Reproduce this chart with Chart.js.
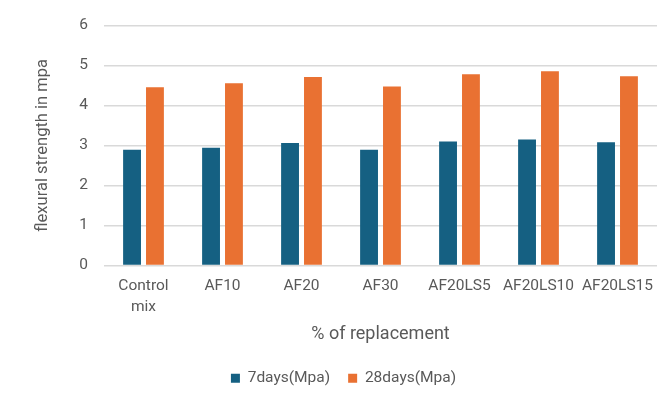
<!DOCTYPE html>
<html>
<head>
<meta charset="utf-8">
<script src="https://cdn.jsdelivr.net/npm/chart.js@4/dist/chart.umd.min.js"></script>
<style>
  html, body { margin: 0; padding: 0; background: #fff; }
  #wrap { width: 670px; height: 408px; }
</style>
</head>
<body>
<div id="wrap"><canvas id="chart" width="670" height="408"></canvas></div>
<script>
const categories = [["Control", "mix"], "AF10", "AF20", "AF30", "AF20LS5", "AF20LS10", "AF20LS15"];
const days7 = [2.89, 2.94, 3.06, 2.89, 3.10, 3.15, 3.08];
const days28 = [4.45, 4.55, 4.71, 4.47, 4.78, 4.85, 4.73];
const yTicks = [0, 1, 2, 3, 4, 5, 6];

const textColor = '#595959';
const font = {family: 'Roboto', size: 15.5};

new Chart(document.getElementById('chart'), {
    type: 'bar',
    data: {
        labels: categories,
        datasets: [{
            label: '7days(Mpa)',
            data: days7,
            backgroundColor: '#156082'
        }, {
            label: '28days(Mpa)',
            data: days28,
            backgroundColor: '#E97132'
        }]
    },
    options: {
        responsive: false,
        animation: false,
        datasets: {
            bar: {categoryPercentage: 0.58, barPercentage: 0.78}
        },
        layout: {padding: {left: 30, right: 13, top: 20, bottom: 12}},
        plugins: {
            tooltip: {enabled: false},
            legend: {
                position: 'bottom',
                labels: {
                    color: textColor,
                    font: font,
                    boxWidth: 9,
                    boxHeight: 9,
                    padding: 18
                }
            }
        },
        scales: {
            x: {
                grid: {display: false},
                border: {display: false},
                ticks: {color: textColor, font: {...font, lineHeight: 1.3}, padding: 3, maxRotation: 0},
                title: {display: true, text: '% of replacement', color: textColor, font: {...font, size: 18}, padding: {top: 8, bottom: 7}},
                afterFit: (scale) => { scale.height = 87; }
            },
            y: {
                min: 0,
                max: 6,
                afterBuildTicks: (scale) => { scale.ticks = yTicks.map(v => ({value: v})); },
                grid: {color: '#d9d9d9', lineWidth: 1.5, drawTicks: false},
                border: {display: false},
                ticks: {color: textColor, font: font, padding: 16},
                title: {display: true, text: 'flexural strength in mpa', color: textColor, font: {...font, size: 16.5}, padding: {top: 3, bottom: 0}},
                afterFit: (scale) => { scale.width = 74; }
            }
        }
    }
});
</script>
</body>
</html>
